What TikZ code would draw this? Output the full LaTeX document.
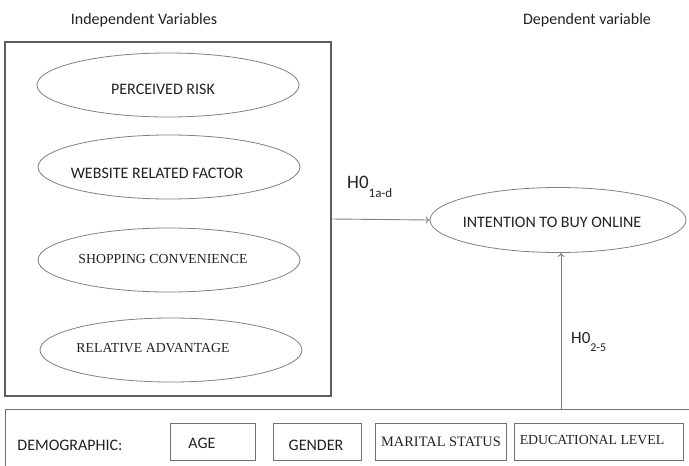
\documentclass[tikz,border=0pt]{standalone}
\usepackage{fontspec}
\usetikzlibrary{shapes.geometric,arrows.meta}
\newfontfamily\sansf{Carlito}
\newfontfamily\seriff{Liberation Serif}
\definecolor{ln}{HTML}{808080}
\definecolor{bx}{HTML}{5E5E5E}
\definecolor{sb}{HTML}{707070}
\definecolor{tx}{HTML}{222222}
\begin{document}
\begin{tikzpicture}[x=1pt,y=-1pt,
  oval/.style={ellipse,draw=ln,line width=0.8pt,minimum width=262pt,minimum height=64pt,inner sep=0pt},
  sanst/.style={font=\sansf\fontsize{16}{18}\selectfont,text=tx,inner sep=0pt},
  seriftxt/.style={font=\seriff\fontsize{13.8}{16}\selectfont,text=tx,inner sep=0pt},
  smallbox/.style={draw=sb,line width=0.8pt,inner sep=0pt},
  arr/.style={draw=ln,line width=0.9pt,-{To[length=4pt,width=7pt]}}
]
\useasboundingbox (0,0) rectangle (689,466);
\clip (0,0) rectangle (689,466);

% headers
\node[sanst] (hind) at (144,20) {Independent Variables};
\node[sanst] (hdep) at (587,20) {Dependent variable};

% big box
\node[draw=bx,line width=2.6pt,minimum width=326pt,minimum height=354pt,inner sep=0pt] (bigbox) at (168,219) {};

% ellipses
\node[oval] (risk) at (168,85) {};
\node[sanst] (riskT) at (163,89) {PERCEIVED RISK};
\node[oval] (web) at (169,167) {};
\node[sanst] (webT) at (157,173) {WEBSITE RELATED FACTOR};
\node[oval] (shop) at (169,260) {};
\node[seriftxt] (shopT) at (163,259) {SHOPPING CONVENIENCE};
\node[oval] (rel) at (171,350) {};
\node[seriftxt] (relT) at (153,348) {RELATIVE ADVANTAGE};

% dependent
\node[oval,minimum width=256pt,minimum height=65pt] (intent) at (558,220) {};
\node[sanst] (intentT) at (552,222) {INTENTION TO BUY ONLINE};

% H1 arrow
\draw[arr] (bigbox.east) -- (intent.west);
\node[font=\sansf\fontsize{19}{20}\selectfont,text=tx,inner sep=0pt,anchor=west] (h1) at (347,187)
  {H0\raisebox{-9pt}{\fontsize{13}{14}\selectfont 1a-d}};

% demographic box
\draw[draw=sb,line width=0.9pt] (5,480) rectangle (700,409);
\coordinate (demotop) at (561,409);
\draw[arr] (demotop) -- (demotop |- intent.south);
\node[font=\sansf\fontsize{17}{18}\selectfont,text=tx,inner sep=0pt,anchor=west] (h2) at (571,342)
  {H0\raisebox{-8pt}{\fontsize{12}{13}\selectfont 2-5}};

\node[sanst] (demoT) at (70,445) {DEMOGRAPHIC:};
\node[smallbox,minimum width=85pt,minimum height=37pt] (age) at (212.5,441.5) {};
\node[sanst] (ageT) at (202,443) {AGE};
\node[smallbox,minimum width=88pt,minimum height=37pt] (gender) at (317,441.5) {};
\node[sanst] (genderT) at (316,445) {GENDER};
\node[smallbox,minimum width=131pt,minimum height=37pt] (marital) at (440.5,441.5) {};
\node[seriftxt,font=\seriff\fontsize{14.4}{16}\selectfont] (maritalT) at (441,442) {MARITAL STATUS};
\node[smallbox,minimum width=169pt,minimum height=37pt] (edu) at (598.5,441.5) {};
\node[seriftxt] (eduT) at (592,440) {EDUCATIONAL LEVEL};
\end{tikzpicture}
\end{document}
